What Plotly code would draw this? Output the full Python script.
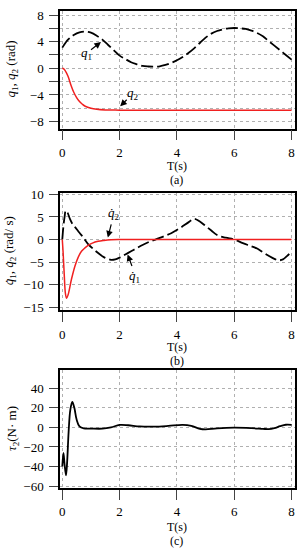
import plotly.graph_objects as go

# ---------------- data ----------------
t_q1 = [0, 0.2, 0.4, 0.6, 0.8, 1.0, 1.2, 1.4, 1.6, 1.8, 2.0, 2.2, 2.4, 2.6, 2.8, 3.0, 3.2, 3.4, 3.6, 3.8,
        4.0, 4.2, 4.4, 4.6, 4.8, 5.0, 5.2, 5.4, 5.6, 5.8, 6.0, 6.2, 6.4, 6.6, 6.8, 7.0, 7.2, 7.4, 7.6, 7.8, 8.0]
q1 = [3.1, 4.3, 5.0, 5.4, 5.5, 5.35, 4.9, 4.3, 3.5, 2.7, 1.9, 1.4, 0.9, 0.6, 0.35, 0.27, 0.25, 0.3, 0.5, 0.8,
      1.2, 1.7, 2.3, 3.0, 3.8, 4.6, 5.2, 5.6, 5.85, 6.0, 6.05, 6.0, 5.9, 5.65, 5.3, 4.8, 4.1, 3.4, 2.7, 2.0, 1.3]

t_q2 = [0, 0.05, 0.1, 0.2, 0.3, 0.4, 0.5, 0.6, 0.7, 0.8, 1.0, 1.2, 1.5, 2.0, 8.0]
q2 = [0, -0.1, -0.35, -1.2, -2.5, -3.6, -4.4, -5.0, -5.4, -5.7, -6.0, -6.15, -6.25, -6.28, -6.28]

t_dq1 = [0, 0.04, 0.08, 0.12, 0.18, 0.27, 0.35, 0.44, 0.6, 0.75, 0.9, 1.1, 1.25, 1.45, 1.7, 1.85, 2.0, 2.2,
         2.4, 2.6, 2.8, 3.0, 3.25, 3.5, 3.8, 4.1, 4.4, 4.6, 4.8, 5.0, 5.2, 5.4, 5.7, 6.0, 6.3, 6.6, 6.8,
         7.0, 7.2, 7.4, 7.55, 7.7, 7.85, 8.0]
dq1 = [0, 3.0, 5.0, 6.4, 6.0, 4.5, 3.5, 2.8, 1.5, 0.3, -1.0, -2.2, -3.0, -3.9, -4.5, -4.4, -4.0, -3.3,
       -2.6, -1.9, -1.2, -0.6, 0.0, 0.6, 1.4, 2.5, 3.8, 4.6, 4.0, 3.0, 2.0, 1.0, 0.4, 0.0, -0.8, -1.5, -2.0,
       -2.8, -3.6, -4.3, -4.6, -4.4, -3.6, -2.6]

t_dq2 = [0, 0.03, 0.07, 0.11, 0.15, 0.2, 0.32, 0.44, 0.55, 0.67, 0.8, 0.9, 1.05, 1.25, 1.45, 1.7, 2.0, 8.0]
dq2 = [0, -3.0, -8.0, -12.0, -13.0, -12.3, -8.8, -5.9, -4.0, -2.6, -1.8, -1.3, -0.8, -0.4, -0.2, -0.05, 0, 0]

t_tau = [0, 0.04, 0.08, 0.13, 0.17, 0.22, 0.28, 0.35, 0.42, 0.5, 0.6, 0.75, 1.0, 1.4, 1.7, 2.0, 2.3, 2.7,
         3.2, 3.7, 4.2, 4.5, 4.8, 5.0, 5.4, 6.0, 6.6, 7.0, 7.2, 7.4, 7.6, 7.8, 8.0]
tau2 = [-40, -26, -38, -49, -35, -5, 18, 26, 20, 8, 1, -1, -1.2, -1.3, 0, 2.5, 2.2, 1.0,
        0.8, 1.5, 2.5, 1.5, -1.5, -2.0, -1.0, -0.3, -0.8, -1.5, -1.8, -0.8, 1.2, 2.7, 2.6]

x_ticks = [0, 2, 4, 6, 8]
ya_ticks = [8, 6, 4, 2, 0, -2, -4, -6, -8]
ya_text = ["8", " ", "4", " ", "0", " ", "\u22124", " ", "\u22128"]
yb_ticks = [10, 5, 0, -5, -10, -15]
yc_ticks = [40, 20, 0, -20, -40, -60]

# ---------------- figure ----------------
FONT = "Liberation Serif, DejaVu Serif, serif"
fig = go.Figure()

fig.add_trace(go.Scatter(x=t_q1, y=q1, mode="lines", line=dict(color="black", width=1.8, dash="12px,4px", shape="spline"),
                         xaxis="x", yaxis="y"))
fig.add_trace(go.Scatter(x=t_q2, y=q2, mode="lines", line=dict(color="#f02020", width=1.5, shape="spline"),
                         xaxis="x", yaxis="y"))
fig.add_trace(go.Scatter(x=t_dq1, y=dq1, mode="lines", line=dict(color="black", width=1.8, dash="12px,4px", shape="spline"),
                         xaxis="x2", yaxis="y2"))
fig.add_trace(go.Scatter(x=t_dq2, y=dq2, mode="lines", line=dict(color="#f02020", width=1.5, shape="spline"),
                         xaxis="x2", yaxis="y2"))
fig.add_trace(go.Scatter(x=t_tau, y=tau2, mode="lines", line=dict(color="black", width=1.8, shape="spline"),
                         xaxis="x3", yaxis="y3"))

L, R, T, B = 60, 6, 5, 62
H = 550
ph = H - T - B


def dom(top_px, bot_px):
    return [(H - B - bot_px) / ph, (H - B - top_px) / ph]


def py(pix):
    return (H - B - pix) / ph


pw = 302 - L - R


def px(pix):
    return (pix - L) / pw


common_x = dict(range=[-0.08, 8.12], tickvals=x_ticks, ticks="outside", ticklen=10, tickwidth=1.3,
                showline=True, linewidth=1.5, linecolor="black", mirror=True,
                showgrid=True, gridcolor="#b0b0b0", griddash="dot", gridwidth=1,
                zeroline=False, ticklabelstandoff=1, tickfont=dict(family=FONT, size=13))
common_y = dict(ticks="outside", ticklen=9, tickwidth=1.3,
                showline=True, linewidth=1.5, linecolor="black", mirror=True,
                showgrid=True, gridcolor="#b0b0b0", griddash="dot", gridwidth=1,
                zeroline=False, ticklabelstandoff=3, tickfont=dict(family=FONT, size=13))

d_a = dom(5, 124)
d_b = dom(189, 308)
d_c = dom(369, 488)

fig.update_layout(
    width=302, height=550,
    margin=dict(l=L, r=R, t=T, b=B),
    paper_bgcolor="white", plot_bgcolor="white",
    font=dict(family=FONT, size=13, color="black"),
    showlegend=False,
    xaxis=dict(common_x, domain=[0, 1], anchor="y"),
    yaxis=dict(common_y, domain=d_a, anchor="x", range=[-9.04, 8.6], tickvals=ya_ticks, ticktext=ya_text),
    xaxis2=dict(common_x, domain=[0, 1], anchor="y2"),
    yaxis2=dict(common_y, domain=d_b, anchor="x2", range=[-15.66, 10.37], tickvals=yb_ticks),
    xaxis3=dict(common_x, domain=[0, 1], anchor="y3"),
    yaxis3=dict(common_y, domain=d_c, anchor="x3", range=[-62, 58.2], tickvals=yc_ticks),
)

ann = []
# x titles and panel labels
for ypix, txt in [(162, "T(s)"), (176, "(a)"), (345, "T(s)"), (359, "(b)"), (527, "T(s)"), (542, "(c)")]:
    ann.append(dict(x=px(177), y=py(ypix), xref="paper", yref="paper", text=txt, showarrow=False,
                    xanchor="center", yanchor="middle", font=dict(size=12)))
# y titles
ann.append(dict(x=px(11), y=py(64), xref="paper", yref="paper", textangle=-90, showarrow=False,
                text="<i>q</i><sub>1</sub>, <i>q</i><sub>2</sub> (rad)", xanchor="center", yanchor="middle",
                font=dict(size=13)))
ann.append(dict(x=px(10), y=py(248), xref="paper", yref="paper", textangle=-90, showarrow=False,
                text="<i>q\u0307</i><sub>1</sub>, <i>q\u0307</i><sub>2</sub> (rad/ s)", xanchor="center",
                yanchor="middle", font=dict(size=13)))
ann.append(dict(x=px(13), y=py(428), xref="paper", yref="paper", textangle=-90, showarrow=False,
                text="<i>\u03c4</i><sub>2</sub>(N\u00b7 m)", xanchor="center", yanchor="middle",
                font=dict(size=13)))

# arrows with labels
arrow_style = dict(showarrow=True, arrowhead=2, arrowsize=1.1, arrowwidth=1.2, arrowcolor="black")
ann.append(dict(x=1.35, y=3.95, ax=0.95, ay=2.6, xref="x", yref="y", axref="x", ayref="y", text="", **arrow_style))
ann.append(dict(x=0.83, y=2.2, xref="x", yref="y", text="<i>q</i><sub>1</sub>", showarrow=False, font=dict(size=13)))
ann.append(dict(x=2.02, y=-5.7, ax=2.3, ay=-4.5, xref="x", yref="y", axref="x", ayref="y", text="", **arrow_style))
ann.append(dict(x=2.45, y=-3.8, xref="x", yref="y", text="<i>q</i><sub>2</sub>", showarrow=False, font=dict(size=13)))

ann.append(dict(x=1.59, y=0.45, xref="x2", yref="y2", ax=1.72, ay=3.7, axref="x2", ayref="y2", text="", **arrow_style))
ann.append(dict(x=1.8, y=5.8, xref="x2", yref="y2", text="<i>q\u0307</i><sub>2</sub>", showarrow=False, font=dict(size=13)))
ann.append(dict(x=2.28, y=-3.3, xref="x2", yref="y2", ax=2.45, ay=-6.2, axref="x2", ayref="y2", text="", **arrow_style))
ann.append(dict(x=2.52, y=-8.2, xref="x2", yref="y2", text="<i>q\u0307</i><sub>1</sub>", showarrow=False, font=dict(size=13)))

fig.update_layout(annotations=ann)

fig.write_html("out.html", config={"displayModeBar": False},
               post_script="document.body.style.margin='0';document.body.style.padding='0';")
